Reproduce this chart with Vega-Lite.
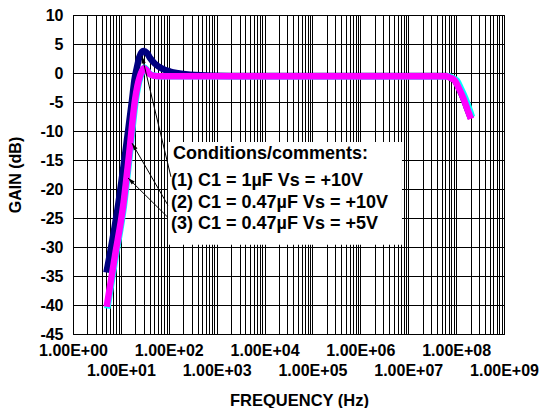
{
  "$schema": "https://vega.github.io/schema/vega-lite/v6.json",
  "autosize": {"type": "none"},
  "padding": {"left": 73, "top": 15, "right": 41, "bottom": 74},
  "width": 431,
  "height": 319,
  "background": "white",
  "config": {
    "font": "Liberation Sans",
    "view": {"stroke": "black", "strokeWidth": 1},
    "axis": {
      "domainColor": "black",
      "gridColor": "black",
      "gridOpacity": 1,
      "gridWidth": 1,
      "ticks": false,
      "tickSize": 0,
      "labelFont": "Liberation Sans",
      "labelFontWeight": "bold",
      "labelFontSize": 16,
      "labelColor": "black",
      "titleFont": "Liberation Sans",
      "titleFontWeight": "bold",
      "titleFontSize": 16,
      "titleColor": "black"
    }
  },
  "datasets": {
    "curves": [
      {"s": "(1)", "f": 5, "g": -34.4},
      {"s": "(1)", "f": 8.9, "g": -22.4},
      {"s": "(1)", "f": 12.2, "g": -14.1},
      {"s": "(1)", "f": 17.1, "g": -4.7},
      {"s": "(1)", "f": 19.2, "g": -1.2},
      {"s": "(1)", "f": 21.7, "g": 1.0},
      {"s": "(1)", "f": 24.4, "g": 2.8},
      {"s": "(1)", "f": 29.4, "g": 3.8},
      {"s": "(1)", "f": 35.1, "g": 3.45},
      {"s": "(1)", "f": 40.5, "g": 2.6},
      {"s": "(1)", "f": 51.5, "g": 1.6},
      {"s": "(1)", "f": 71, "g": 0.8},
      {"s": "(1)", "f": 106, "g": 0.25},
      {"s": "(1)", "f": 155, "g": -0.05},
      {"s": "(1)", "f": 352, "g": -0.35},
      {"s": "(1)", "f": 1900, "g": -0.5},
      {"s": "(1)", "f": 63000000, "g": -0.5},
      {"s": "(1)", "f": 74000000, "g": -0.75},
      {"s": "(1)", "f": 94000000, "g": -1.3},
      {"s": "(1)", "f": 114000000, "g": -2.6},
      {"s": "(1)", "f": 141000000, "g": -4.3},
      {"s": "(1)", "f": 168000000, "g": -6.0},
      {"s": "(1)", "f": 204000000, "g": -7.8},
      {"s": "(2)", "f": 5.2, "g": -40.6},
      {"s": "(2)", "f": 7.8, "g": -31.6},
      {"s": "(2)", "f": 11.6, "g": -22.8},
      {"s": "(2)", "f": 15.3, "g": -14.1},
      {"s": "(2)", "f": 20.4, "g": -4.7},
      {"s": "(2)", "f": 23, "g": -2.2},
      {"s": "(2)", "f": 26, "g": -0.5},
      {"s": "(2)", "f": 28.5, "g": 0.4},
      {"s": "(2)", "f": 31, "g": 0.95},
      {"s": "(2)", "f": 34.5, "g": 0.6},
      {"s": "(2)", "f": 39, "g": -0.05},
      {"s": "(2)", "f": 47, "g": -0.4},
      {"s": "(2)", "f": 66, "g": -0.55},
      {"s": "(2)", "f": 69000000, "g": -0.55},
      {"s": "(2)", "f": 82000000, "g": -0.8},
      {"s": "(2)", "f": 104000000, "g": -1.3},
      {"s": "(2)", "f": 125000000, "g": -2.6},
      {"s": "(2)", "f": 155000000, "g": -4.3},
      {"s": "(2)", "f": 185000000, "g": -6.0},
      {"s": "(2)", "f": 215000000, "g": -7.6},
      {"s": "(3)", "f": 5.05, "g": -40.3},
      {"s": "(3)", "f": 7.5, "g": -31.6},
      {"s": "(3)", "f": 11.2, "g": -22.8},
      {"s": "(3)", "f": 14.8, "g": -14.1},
      {"s": "(3)", "f": 19.7, "g": -4.7},
      {"s": "(3)", "f": 22.2, "g": -2.2},
      {"s": "(3)", "f": 25.1, "g": -0.5},
      {"s": "(3)", "f": 27.6, "g": 0.35},
      {"s": "(3)", "f": 30.4, "g": 0.8},
      {"s": "(3)", "f": 34.2, "g": 0.5},
      {"s": "(3)", "f": 38.6, "g": -0.1},
      {"s": "(3)", "f": 46.8, "g": -0.45},
      {"s": "(3)", "f": 65.5, "g": -0.57},
      {"s": "(3)", "f": 63000000, "g": -0.57},
      {"s": "(3)", "f": 74000000, "g": -0.8},
      {"s": "(3)", "f": 94000000, "g": -1.3},
      {"s": "(3)", "f": 114000000, "g": -2.6},
      {"s": "(3)", "f": 141000000, "g": -4.3},
      {"s": "(3)", "f": 168000000, "g": -6.0},
      {"s": "(3)", "f": 204000000, "g": -7.9}
    ],
    "box": [{"f": 96, "f2": 7400000, "g": -11.9, "g2": -29.6}],
    "arrows": [
      {"id": 1, "f": 27.6, "g": 2.9, "f2": 111, "g2": -17.9},
      {"id": 2, "f": 17.1, "g": -12.1, "f2": 96, "g2": -22.8},
      {"id": 3, "f": 14.1, "g": -18.1, "f2": 96, "g2": -24.9}
    ],
    "notes": [
      {"f": 122, "g": -14.05, "t": "Conditions/comments:"},
      {"f": 111, "g": -18.6, "t": "(1) C1 = 1µF Vs = +10V"},
      {"f": 111, "g": -22.4, "t": "(2) C1 = 0.47µF Vs = +10V"},
      {"f": 111, "g": -26.0, "t": "(3) C1 = 0.47µF Vs = +5V"}
    ]
  },
  "encoding": {
    "x": {
      "field": "f",
      "type": "quantitative",
      "scale": {"type": "log", "domain": [1, 1000000000], "nice": false},
      "axis": {
        "title": "FREQUENCY (Hz)",
        "titleX": 226,
        "titleY": 58,
        "titleBaseline": "top",
        "titleFontSize": 16.5,
        "values": [1,2,3,4,5,6,7,8,9,10,20,30,40,50,60,70,80,90,100,200,300,400,500,600,700,800,900,1000,2000,3000,4000,5000,6000,7000,8000,9000,10000,20000,30000,40000,50000,60000,70000,80000,90000,100000,200000,300000,400000,500000,600000,700000,800000,900000,1000000,2000000,3000000,4000000,5000000,6000000,7000000,8000000,9000000,10000000,20000000,30000000,40000000,50000000,60000000,70000000,80000000,90000000,100000000,200000000,300000000,400000000,500000000,600000000,700000000,800000000,900000000,1000000000],
        "labelExpr": "indexof([1,10,100,1000,10000,100000,1000000,10000000,100000000,1000000000], datum.value) < 0 ? '' : '1.00E+0' + round(log(datum.value)/LN10)",
        "labelPadding": {"condition": {"test": "indexof([10,1000,100000,10000000,1000000000], datum.value) >= 0", "value": 28}, "value": 8},
        "labelOverlap": false,
        "labelFlush": false,
        "labelBound": false,
        "labelAlign": "center",
        "labelBaseline": "top"
      }
    },
    "y": {
      "field": "g",
      "type": "quantitative",
      "scale": {"domain": [-45, 10], "nice": false, "zero": false},
      "axis": {
        "title": "GAIN (dB)",
        "titleX": -58,
        "titleBaseline": "middle",
        "values": [-45,-40,-35,-30,-25,-20,-15,-10,-5,0,5,10],
        "labelExpr": "datum.value + ''",
        "labelPadding": 10,
        "labelOverlap": false,
        "labelFlush": false
      }
    }
  },
  "layer": [
    {
      "data": {"name": "curves"},
      "mark": {"type": "line", "strokeWidth": 6.5, "interpolate": "monotone", "strokeJoin": "round"},
      "encoding": {
        "color": {
          "field": "s",
          "type": "nominal",
          "scale": {"domain": ["(1)", "(2)", "(3)"], "range": ["#000080", "#00FFFF", "#FF00FF"]},
          "legend": null
        }
      }
    },
    {
      "data": {"name": "box"},
      "mark": {"type": "rect", "fill": "white", "stroke": null},
      "encoding": {"x2": {"field": "f2"}, "y2": {"field": "g2"}}
    },
    {
      "data": {"name": "arrows"},
      "mark": {"type": "rule", "color": "black", "strokeWidth": 1},
      "encoding": {"x2": {"field": "f2"}, "y2": {"field": "g2"}}
    },
    {
      "data": {"name": "arrows"},
      "transform": [{"filter": "datum.id == 1"}],
      "mark": {"type": "point", "shape": "M0,0L-0.7,2.4L0.7,2.4Z", "size": 36, "filled": true, "color": "black", "opacity": 1, "angle": 346.5},
      "encoding": {}
    },
    {
      "data": {"name": "arrows"},
      "transform": [{"filter": "datum.id == 2"}],
      "mark": {"type": "point", "shape": "M0,0L-0.7,2.4L0.7,2.4Z", "size": 36, "filled": true, "color": "black", "opacity": 1, "angle": 329.7},
      "encoding": {}
    },
    {
      "data": {"name": "arrows"},
      "transform": [{"filter": "datum.id == 3"}],
      "mark": {"type": "point", "shape": "M0,0L-0.7,2.4L0.7,2.4Z", "size": 36, "filled": true, "color": "black", "opacity": 1, "angle": 314.3},
      "encoding": {}
    },
    {
      "data": {"name": "notes"},
      "mark": {"type": "text", "align": "left", "baseline": "middle", "font": "Liberation Sans", "fontWeight": "bold", "fontSize": 18, "color": "black"},
      "encoding": {"text": {"field": "t"}}
    }
  ]
}
